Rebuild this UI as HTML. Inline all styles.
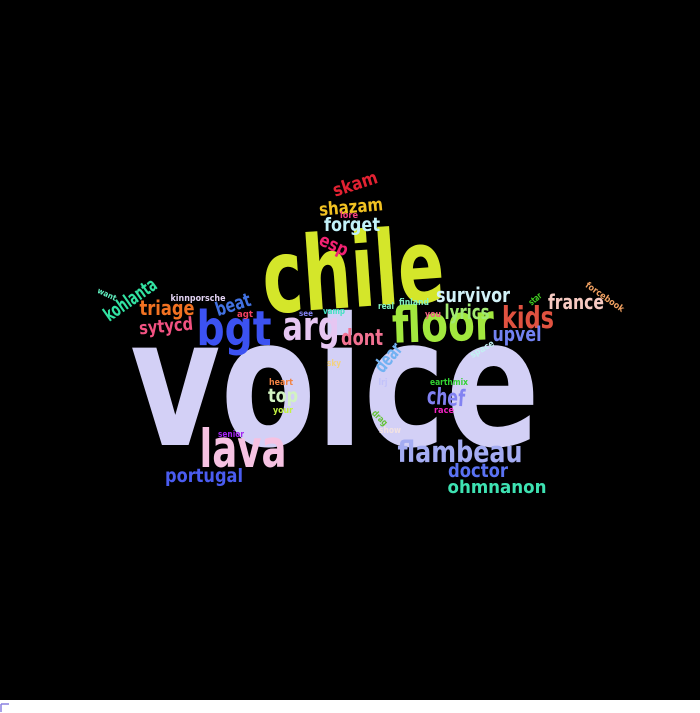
<!DOCTYPE html>
<html><head><meta charset="utf-8"><style>
html,body{margin:0;padding:0;background:#fff;width:700px;height:713px;overflow:hidden}
svg{display:block}
text{font-family:"DejaVu Sans","Liberation Sans",sans-serif;font-weight:bold}
</style></head><body>
<svg id="cloud" width="700" height="713">
<rect x="0" y="0" width="700" height="700" fill="#000"/>
<path d="M1 704 H9 M1 704 V712" stroke="#8a80e0" stroke-width="1.5" fill="none"/>
<g id="words"></g>
</svg>
<script>
// words, center x, baseline y, font size, width, color, rotation
const words=["voice","chile","bgt","arg","floor","lava","flambeau","doctor","ohmnanon","portugal","kids","france","survivor","lyrics","upvel","dont","dear","space","chef","race","earthmix","lrj","drag","show","sky","vamp","real","finland","you","star","forcebook","top","heart","your","senior","see","agt","kinnporsche","beat","triage","sytycd","kohlanta","want","skam","shazam","lore","forget","esp"];
const xs=[335,353,234,311,443,243,460,478,497,204,528,576,473,467,517,362,388,482,446,444,449,383,380,390,334,334,386,414,433,535,605,283,281,283,231,306,245,198,233,167,166,130,107,355,351,349,352,334];
const ys=[445,307,345,340,341,467,462,477,493,482,328,309,302,319,341,345,364,352,405,413,385,385,421,433,366,314,309,305,317,302,300,402,385,413,437,316,317,301,311,315,332,306,297,190,213,218,231,251];
const sizes=[178,103,48,40,50,53,29,19,18,19,30,20,20,20,20,22,19,9,23,9,9,9,9,9,9,9,9,9,9,9,9,19,9,9,9,8,9,9,19,20,18,19,8,18,18,9,19,18];
const widths=[410,182,75,57,102,87,125,60,99,78,52,56,74,45,49,42,32,26,38,20,38,9,18,22,14,22,16,30,16,14,45,30,24,20,26,14,16,55,36,55,54,60,20,46,64,18,56,30];
const colors=["#d3d0f6","#d4e62a","#3c52f2","#e6c6f2","#a2e83e","#f6c2e2","#a4acf2","#5a72f2","#3ee2b2","#4a5cf0","#e05240","#f6cac2","#d2f2f8","#a2ea72","#7282f2","#f27292","#72b2f2","#c2f2f2","#8282f2","#f222c2","#32d232","#c2c2fa","#62c232","#f2e2e2","#f2d282","#42e2c2","#82f2c2","#82f2c2","#f26282","#42d222","#f2a262","#d2f2c2","#f28242","#c2f242","#a222f2","#8282f2","#f24262","#e2d2f2","#4272e2","#f27222","#f25282","#32e2a2","#62f2c2","#e22232","#f2c222","#f24282","#c2f2fa","#f22272"];
const rots=[0,-4,0,0,-2,0,0,0,0,0,0,0,0,0,0,0,-50,-30,4,0,0,0,45,0,0,0,0,0,0,-40,35,0,0,0,0,0,0,0,-18,0,-5,-35,25,-18,-5,0,0,25];
const g=document.getElementById('words');
const NS='http://www.w3.org/2000/svg';
for(let i=0;i<words.length;i++){
  const t=document.createElementNS(NS,'text');
  
  
  t.setAttribute('x',xs[i]);t.setAttribute('y',ys[i]);
  t.setAttribute('font-size',sizes[i]);
  t.setAttribute('fill',colors[i]);
  t.setAttribute('text-anchor','middle');
  t.setAttribute('textLength',widths[i]);
  t.setAttribute('lengthAdjust','spacingAndGlyphs');
  const cy=ys[i]-sizes[i]*0.35;
  t.setAttribute('transform','rotate('+rots[i]+' '+xs[i]+' '+cy+')');
  t.textContent=words[i];
  g.appendChild(t);
}
</script>
</body></html>
